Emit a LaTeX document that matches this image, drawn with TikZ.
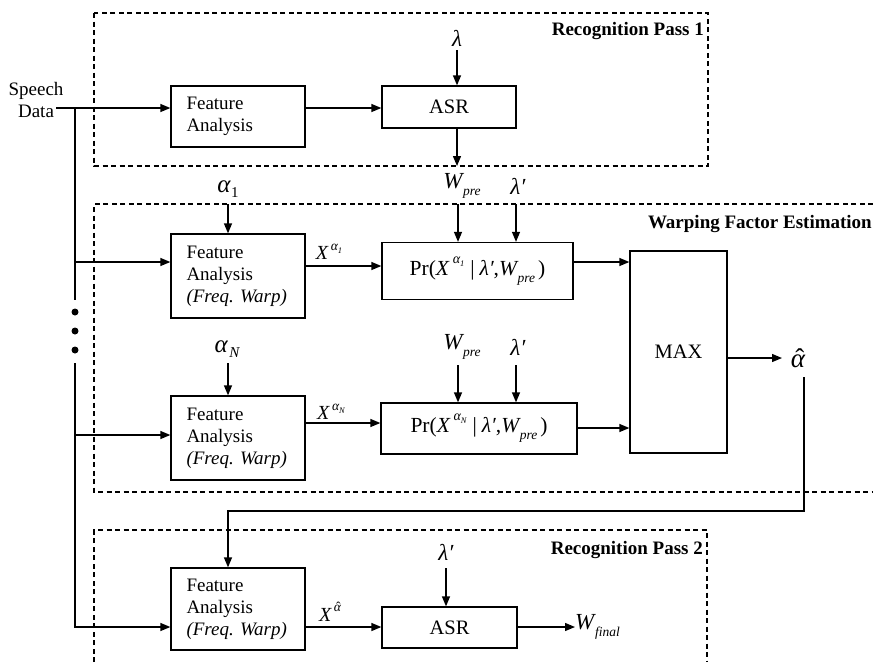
\documentclass[tikz,border=0pt]{standalone}
\usepackage{fontspec}
\setmainfont{Liberation Serif}
\usetikzlibrary{arrows.meta,calc}
% small italic sub/superscripts for the formula labels
\newcommand\subx[1]{\raisebox{-0.32em}{\fontsize{13.5}{13.5}\selectfont\itshape #1}}
\newcommand\supx[1]{\raisebox{0.48em}{\fontsize{13.5}{13.5}\selectfont\itshape #1}}
\newcommand\supp[1]{\raisebox{0.56em}{\fontsize{14}{14}\selectfont\itshape #1}}
\newcommand\tinyidx[1]{\raisebox{-0.2em}{\fontsize{8.5}{8.5}\selectfont #1}}
\newcommand\symidx[1]{\raisebox{-0.2em}{\fontsize{15}{15}\selectfont #1}}
% italic alpha with a circumflex set over it
\newcommand\hatalpha{\leavevmode\setbox0=\hbox{\itshape α}%
  \rlap{\hbox to\wd0{\hss\kern0.14em\upshape ˆ\hss}}\box0}
\begin{document}
\begin{tikzpicture}[x=1pt,y=-1pt,
  box/.style={draw, line width=1.3pt, minimum width=134pt, inner sep=0pt,
    font=\fontsize{19}{21.8}\selectfont},
  capbox/.style={box, font=\fontsize{20.5}{22}\selectfont},
  fabox/.style={box, text width=103pt, inner xsep=15.5pt, align=left},
  prbox/.style={box, font=\fontsize{21.5}{23}\selectfont},
  wire/.style={line width=1.3pt},
  arr/.style={wire, -{Triangle[length=10pt,width=8pt]}},
  frame/.style={line width=1.1pt, dash pattern=on 5pt off 3.5pt},
  lab/.style={font=\fontsize{19}{21}\selectfont\bfseries, anchor=east, inner sep=0pt},
  sym/.style={font=\fontsize{23}{25}\selectfont, inner sep=1pt},
  grk/.style={font=\fontsize{25}{27}\selectfont, inner sep=1pt},
  xlab/.style={font=\fontsize{20}{22}\selectfont, inner sep=0pt},
]
\useasboundingbox (0,0) rectangle (873,662);

% dashed stage frames
\draw[frame] (94,13) rectangle (708,166);
\draw[frame] (873,204) -- (94,204) -- (94,492) -- (873,492);
\draw[frame] (94,662) -- (94,530) -- (707,530) -- (707,662);
\node[lab] (t1) at (704,31) {Recognition Pass 1};
\node[lab] (t2) at (872,224) {Warping Factor Estimation};
\node[lab] (t3) at (703,550) {Recognition Pass 2};

% input
\node[font=\fontsize{19}{21.5}\selectfont, align=center, inner sep=0pt] (sd) at (36,100) {Speech\\Data};
\coordinate (sdin) at (56,108);

% recognition pass 1
\node[fabox, minimum height=61pt] (fa1) at (238,116.5) {Feature\\Analysis};
\node[capbox, minimum height=42pt] (asr1) at (449,107) {ASR};
\node[sym] (lam1) at (457,38) {\textit{λ}};
\coordinate (wend) at (457,166);

% warping factor estimation
\node[sym] (wpre1) at (462,186) {\textit{W}\kern-1pt\subx{pre}};
\node[sym] (lp1) at (518,186) {\textit{λ′}};
\node[grk] (a1) at (228,189) {\textit{α}\symidx{1}};
\node[fabox, minimum height=84pt] (fa2) at (238,276) {Feature\\Analysis\\\textit{(Freq.\ Warp)}};
\node[xlab] (x1) at (329,252) {\textit{X}\kern2pt\supx{α\tinyidx{1}}};
\node[prbox, minimum width=191pt, minimum height=57pt] (pr1) at (477.5,271)
  {Pr(\textit{X}\kern3pt\supp{α\tinyidx{1}}\hspace{6pt}|\hspace{5pt}\textit{λ′},\textit{W}\kern-1pt\subx{pre}\kern3pt)};

\node[grk] (aN) at (227,349) {\textit{α}\kern1pt\symidx{\itshape N}};
\node[fabox, minimum height=84pt] (faN) at (238,438) {Feature\\Analysis\\\textit{(Freq.\ Warp)}};
\node[xlab] (xN) at (331,412) {\textit{X}\kern2pt\supx{α\tinyidx{\itshape N}}};
\node[sym] (wpreN) at (462,347) {\textit{W}\kern-1pt\subx{pre}};
\node[sym] (lpN) at (518,347) {\textit{λ′}};
\node[prbox, minimum width=196pt, minimum height=51pt] (prN) at (479,428.5)
  {Pr(\textit{X}\kern3pt\supp{α\tinyidx{\itshape N}}\hspace{6pt}|\hspace{5pt}\textit{λ′},\textit{W}\kern-1pt\subx{pre}\kern3pt)};

\node[capbox, minimum width=97pt, minimum height=202pt] (max) at (678.5,352) {MAX};
\node[font=\fontsize{27}{29}\selectfont, inner sep=0pt] (ahat) at (798,358) {\hatalpha};

% recognition pass 2
\node[fabox, minimum height=82pt] (fa3) at (238,609) {Feature\\Analysis\\\textit{(Freq.\ Warp)}};
\node[xlab] (x3) at (330,612) {\textit{X}\kern2pt\supx{\hatalpha}};
\node[capbox, minimum width=135pt, minimum height=41pt] (asr2) at (449.5,627.5) {ASR};
\node[sym] (lp2) at (446,552) {\textit{λ′}};
\node[sym, anchor=west, inner sep=0pt] (wfin) at (575,627) {\textit{W}\kern-1pt\subx{final}};

% input trunk and branches
\coordinate (tr0) at (75,108);
\coordinate (tr1) at (75,300);
\coordinate (tr2) at (75,363);
\coordinate (tr3) at (75,627);
\draw[arr] (sdin) -- (fa1.west |- sdin);
\draw[wire] (tr0) -- (tr1);
\fill (75,312) circle (3.5pt) (75,331) circle (3.5pt) (75,350) circle (3.5pt);
\draw[arr] (tr0 |- 0,262) -- (fa2.west |- 0,262);
\draw[arr] (tr2 |- 0,435) -- (faN.west |- 0,435);
\draw[arr] (tr2) -- (tr3) -- (fa3.west |- tr3);

% pass 1 connectors
\draw[arr] (fa1.east |- sdin) -- (asr1.west |- sdin);
\coordinate (lam1s) at (457,50);
\draw[arr] (lam1s) -- (lam1s |- asr1.north);
\draw[arr] (asr1.south -| wend) -- (wend);

% estimation connectors
\coordinate (wa1) at (458,204);
\coordinate (la1) at (516,204);
\coordinate (aa1) at (228,204);
\draw[arr] (wa1) -- (wa1 |- pr1.north);
\draw[arr] (la1) -- (la1 |- pr1.north);
\draw[arr] (aa1) -- (aa1 |- fa2.north);
\draw[arr] (fa2.east |- 0,266) -- (pr1.west |- 0,266);
\draw[arr] (pr1.east |- 0,262) -- (max.west |- 0,262);

\coordinate (waN) at (458,365);
\coordinate (laN) at (516,365);
\coordinate (aaN) at (228,363);
\draw[arr] (waN) -- (waN |- prN.north);
\draw[arr] (laN) -- (laN |- prN.north);
\draw[arr] (aaN) -- (aaN |- faN.north);
\draw[arr] (faN.east |- 0,423) -- (prN.west |- 0,423);
\draw[arr] (prN.east |- 0,428) -- (max.west |- 0,428);

\coordinate (ahin) at (782,358);
\draw[arr] (max.east |- ahin) -- (ahin);

% feedback of the estimated warping factor
\coordinate (fb0) at (804,377);
\coordinate (fb1) at (804,511);
\coordinate (fb2) at (228,511);
\draw[arr] (fb0) -- (fb1) -- (fb2) -- (fb2 |- fa3.north);

% pass 2 connectors
\coordinate (lp2s) at (446,568);
\draw[arr] (lp2s) -- (lp2s |- asr2.north);
\draw[arr] (fa3.east |- tr3) -- (asr2.west |- tr3);
\draw[arr] (asr2.east |- tr3) -- (wfin.west |- tr3);
\end{tikzpicture}
\end{document}
